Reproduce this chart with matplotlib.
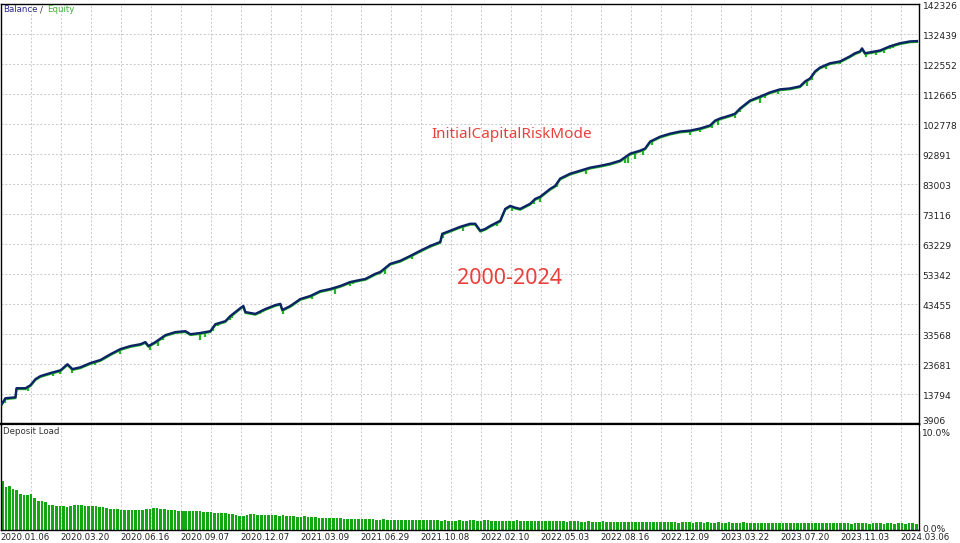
import numpy as np
import matplotlib
matplotlib.use("Agg")
import matplotlib.pyplot as plt
from matplotlib import transforms
from matplotlib.patches import Rectangle

# balance curve (deal number -> balance)
deal_no = [0, 5, 15, 16, 25, 30, 35, 40, 50, 60, 67, 72, 80, 90, 100, 110, 120, 130, 140, 145,
           148, 155, 165, 175, 185, 190, 200, 210, 215, 225, 230, 240, 243, 245, 255, 265, 275, 280, 282, 290,
           300, 310, 320, 330, 340, 350, 360, 365, 375, 380, 390, 400, 410, 420, 430, 440, 442, 450, 460, 470,
           475, 480, 485, 490, 500, 505, 510, 515, 520, 530, 535, 540, 550, 555, 560, 570, 580, 590, 600, 610,
           620, 630, 640, 645, 650, 660, 670, 680, 690, 700, 710, 715, 720, 730, 735, 740, 750, 760, 770, 780,
           790, 800, 805, 810, 815, 820, 830, 840, 850, 855, 860, 862, 865, 870, 880, 890, 900, 910, 917]
balance = [10000, 12500, 12800, 15800, 15800, 16800, 18800, 19800, 20800, 21700, 23700, 22100, 22700, 24100, 25100, 27000, 28700, 29700, 30300, 31000,
           29700, 31000, 33300, 34300, 34600, 33600, 34000, 34600, 36900, 37900, 39600, 42200, 42900, 40900, 40300, 41900, 43200, 43600, 41600, 42900,
           45200, 46200, 47800, 48500, 49500, 50800, 51500, 51800, 53500, 54100, 56800, 57800, 59400, 61100, 62700, 64000, 66700, 67700, 69000, 70000,
           70000, 67700, 68300, 69300, 71000, 74900, 75900, 75300, 74900, 76600, 78200, 78900, 81500, 82500, 84900, 86500, 87500, 88500, 89100, 89800,
           90800, 93100, 94100, 94800, 97100, 98700, 99700, 100400, 100700, 101400, 102400, 104000, 104700, 105700, 106300, 108000, 110600, 111900, 113300, 114300,
           114600, 115300, 116900, 117900, 120200, 121500, 122900, 123500, 125200, 126200, 126800, 127800, 126200, 126500, 127100, 128500, 129500, 130100, 130200]

# equity dips below balance (deal number, depth in $)
dip_deal = [5, 28, 53, 60, 72, 95, 120, 150, 158, 163, 200, 205, 213, 218, 230, 232, 260, 283, 312, 335,
            350, 353, 385, 412, 443, 463, 497, 512, 534, 540, 557, 586, 625, 628, 635, 643, 652, 690, 700, 712,
            718, 735, 740, 760, 765, 778, 807, 812, 826, 840, 866, 876, 884, 890, 893]
dip_depth = [1600, 1600, 1300, 1300, 1300, 1300, 1600, 1600, 2000, 1300, 2300, 1600, 1300, 1000, 1300, 1300, 1000, 1600, 1300, 2000,
             1300, 1000, 2000, 1300, 1600, 1600, 1300, 1300, 1300, 1600, 1300, 1600, 2000, 2600, 2300, 2000, 1300, 1300, 1300, 1600,
             2000, 1600, 1300, 2000, 1300, 1300, 2000, 1300, 1300, 1000, 1300, 1300, 1300, 1000, 1000]

# deposit load in %, one bar per deal group
deposit_load = [
    4.85, 4.2, 4.3, 4.0, 3.9, 3.5, 3.4, 3.45, 3.5, 3.1,
    2.85, 2.8, 2.75, 2.45, 2.4, 2.35, 2.3, 2.3, 2.25, 2.3,
    2.4, 2.4, 2.4, 2.35, 2.35, 2.3, 2.3, 2.25, 2.2, 2.1,
    2.05, 2.0, 2.0, 1.95, 1.95, 1.9, 1.9, 1.9, 1.9, 1.95,
    2.0, 2.05, 2.1, 2.1, 2.05, 2.0, 1.95, 1.9, 1.9, 1.85,
    1.85, 1.8, 1.8, 1.85, 1.8, 1.8, 1.75, 1.75, 1.7, 1.65,
    1.6, 1.6, 1.6, 1.55, 1.5, 1.4, 1.35, 1.35, 1.45, 1.5,
    1.5, 1.45, 1.45, 1.45, 1.4, 1.4, 1.4, 1.35, 1.4, 1.35,
    1.3, 1.3, 1.25, 1.25, 1.3, 1.2, 1.2, 1.2, 1.15, 1.15,
    1.15, 1.1, 1.1, 1.1, 1.1, 1.05, 1.05, 1.05, 1.05, 1.0,
    1.0, 1.0, 1.0, 1.0, 0.95, 0.95, 1.0, 0.95, 0.95, 0.95,
    0.95, 0.9, 0.95, 0.9, 0.9, 0.9, 0.95, 0.9, 0.9, 0.9,
    0.9, 0.9, 0.85, 0.9, 0.85, 0.85, 0.85, 0.9, 0.85, 0.85,
    0.9, 0.9, 0.85, 0.85, 0.9, 0.9, 0.85, 0.85, 0.85, 0.85,
    0.85, 0.85, 0.85, 0.9, 0.85, 0.85, 0.8, 0.8, 0.85, 0.85,
    0.8, 0.8, 0.85, 0.8, 0.8, 0.8, 0.8, 0.75, 0.8, 0.8,
    0.8, 0.75, 0.75, 0.8, 0.75, 0.75, 0.75, 0.8, 0.75, 0.75,
    0.75, 0.75, 0.7, 0.75, 0.75, 0.7, 0.75, 0.7, 0.7, 0.75,
    0.7, 0.7, 0.7, 0.75, 0.7, 0.7, 0.7, 0.7, 0.65, 0.7,
    0.7, 0.7, 0.65, 0.7, 0.7, 0.65, 0.7, 0.65, 0.65, 0.7,
    0.65, 0.65, 0.7, 0.65, 0.65, 0.65, 0.7, 0.65, 0.65, 0.65,
    0.65, 0.65, 0.6, 0.65, 0.65, 0.6, 0.65, 0.65, 0.6, 0.65,
    0.6, 0.65, 0.6, 0.6, 0.65, 0.6, 0.6, 0.6, 0.65, 0.6,
    0.6, 0.6, 0.6, 0.65, 0.6, 0.6, 0.55, 0.6, 0.6, 0.6,
    0.6, 0.55, 0.6, 0.6, 0.6, 0.55, 0.6, 0.6, 0.55, 0.6,
    0.6, 0.55, 0.6, 0.6, 0.55,
]

y_ticks = [3906, 13794, 23681, 33568, 43455, 53342, 63229, 73116, 83003, 92891,
           102778, 112665, 122552, 132439, 142326]
date_labels = ["2020.01.06", "2020.03.20", "2020.06.16", "2020.09.07", "2020.12.07", "2021.03.09",
               "2021.06.29", "2021.10.08", "2022.02.10", "2022.05.03", "2022.08.16", "2022.12.09",
               "2023.03.22", "2023.07.20", "2023.11.03", "2024.03.06"]

W, H = 960, 543
NAVY = "#0c2466"
GREEN = "#22b422"
BAR_GREEN = "#13a813"
GRID = "#c8c8c8"
RED = "#e8413b"

def fx(x):
    return x / W

def fy(y):
    return 1 - y / H

fig = plt.figure(figsize=(9.6, 5.43), dpi=100)
fig.patch.set_facecolor("white")

x_max = 919
ax = fig.add_axes([fx(0.5), fy(424.3), fx(918.5), (424.3 - 4.3) / H])
ax2 = fig.add_axes([fx(0.5), fy(529.5), fx(918.5), (529.5 - 424.3) / H])

grid_x = np.arange(31, x_max, 30)

# upper panel
ax.set_xlim(0, x_max)
ax.set_ylim(y_ticks[0], y_ticks[-1])
for gx in grid_x:
    ax.axvline(gx, color=GRID, lw=0.7, ls=(0, (2, 2)), zorder=0)
for gy in y_ticks[1:-1]:
    ax.axhline(gy, color=GRID, lw=0.7, ls=(0, (2, 2)), zorder=0)

bal = np.array(balance)
deals = np.array(deal_no)
dip_top = np.interp(dip_deal, deals, bal)
ax.vlines(dip_deal, dip_top - np.array(dip_depth), dip_top, color=GREEN, lw=1.6, zorder=2)
ax.plot(deals, bal - 300, color=GREEN, lw=1.5, zorder=2)
ax.plot(deals, bal, color=NAVY, lw=1.7, zorder=3)

ax.set_xticks([])
ax.set_yticks([])
for s in ax.spines.values():
    s.set_color("black")
    s.set_linewidth(1.0)
ax.spines["bottom"].set_linewidth(1.6)

trans = transforms.blended_transform_factory(ax.transAxes, ax.transData)
for v in y_ticks[1:]:
    ax.text(1.004, v - 600, str(v), transform=trans, ha="left", va="center",
            fontsize=6.6, color="#222222", family="DejaVu Sans")

fig.text(fx(3), fy(10), "Balance", fontsize=6.2, color="#2a2a8a", va="center", family="DejaVu Sans")
fig.text(fx(40), fy(10), "/", fontsize=6.2, color="#333333", va="center", family="DejaVu Sans")
fig.text(fx(47), fy(10), "Equity", fontsize=6.2, color="#3cb43c", va="center", family="DejaVu Sans")

fig.text(fx(512), fy(135), "InitialCapitalRiskMode", fontsize=11, color=RED,
         ha="center", va="center", family="Noto Sans")
fig.text(fx(510), fy(278), "2000-2024", fontsize=15.5, color=RED,
         ha="center", va="center", family="Noto Sans")

# lower panel
ax2.set_xlim(0, x_max)
ax2.set_ylim(0, 10.5)
for gx in grid_x:
    ax2.axvline(gx, color=GRID, lw=0.7, ls=(0, (2, 2)), zorder=0)
load_step = 3.6
bar_x = 1.8 + load_step * np.arange(len(deposit_load))
ax2.bar(bar_x, deposit_load, width=2.6, color=BAR_GREEN, linewidth=0, zorder=2)
ax2.set_xticks([])
ax2.set_yticks([])
for s in ax2.spines.values():
    s.set_color("black")
    s.set_linewidth(1.0)
ax2.spines["top"].set_linewidth(1.6)

# bottom label of the upper scale is half hidden by the lower panel
fig.text(fx(922), fy(422), "3906", fontsize=6.6, color="#222222", va="center",
         family="DejaVu Sans", zorder=3)
fig.add_artist(Rectangle((fx(920), fy(431)), fx(40), (431 - 425.5) / H,
                         transform=fig.transFigure, facecolor="white", edgecolor="none", zorder=3.5))

fig.text(fx(3), fy(432), "Deposit Load", fontsize=6.2, color="#333333", va="center", family="DejaVu Sans")
fig.text(fx(922), fy(433), "10.0%", fontsize=6.6, color="#222222", va="center",
         family="DejaVu Sans", zorder=4)
fig.text(fx(922), fy(529), "0.0%", fontsize=6.6, color="#222222", va="center", family="DejaVu Sans")

for k, lab in enumerate(date_labels):
    fig.text(fx(25 + 60 * k), fy(537), lab, fontsize=6.2, color="#222222",
             ha="center", va="center", family="DejaVu Sans")

fig.savefig("out.png", dpi=100)
